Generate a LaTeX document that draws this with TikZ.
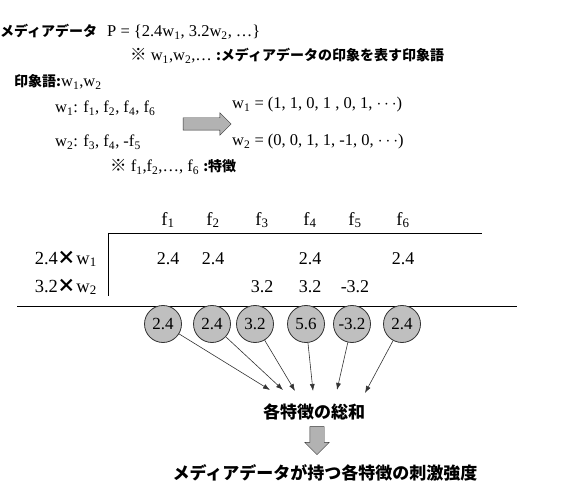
\documentclass[tikz,border=0pt]{standalone}
\usepackage{fontspec}
\setmainfont{Liberation Serif}
\newfontfamily\jp{Noto Sans CJK JP}
\usetikzlibrary{positioning,calc,arrows.meta,shapes.arrows}
\newcommand{\ws}[1]{w\textsubscript{#1}}
\newcommand{\fs}[1]{f\textsubscript{#1}}

\begin{document}
\begin{tikzpicture}[
  x=1pt, y=-1pt,
  txt/.style={anchor=west, inner sep=0pt, font=\fontsize{16.5}{18}\selectfont},
  jpb/.style={font=\jp\bfseries\fontsize{14}{16}\selectfont, inner sep=0pt},
  hd/.style={font=\fontsize{18.5}{20}\selectfont, inner sep=0pt},
  val/.style={font=\fontsize{18}{20}\selectfont, inner sep=0pt},
  sumc/.style={circle, draw=black!80, thick, fill=gray!50, minimum size=37pt,
               inner sep=0pt, font=\fontsize{17}{19}\selectfont},
  blk/.style={single arrow, draw=gray!40!black, fill=gray!60,
              single arrow head extend=5pt},
  arr/.style={-{Latex[length=7pt,width=5pt]}, semithick, black!80}
]
\useasboundingbox (0,0) rectangle (568,489);

% Media data and impression words
\node[txt] (P) at (0,32) {{\jp\bfseries\fontsize{14}{16}\selectfont メディアデータ}\hspace{10pt}P = \{2.4\ws{1}, 3.2\ws{2}, …\}};
\node[txt] (nw) at (130,56) {{\jp ※} \ws{1},\ws{2},… {\jp\bfseries\fontsize{14}{16}\selectfont :メディアデータの印象を表す印象語}};
\node[txt] (iw) at (14,82) {{\jp\bfseries\fontsize{14}{16}\selectfont 印象語:}\ws{1},\ws{2}};
\node[txt] (w1) at (55,108) {\ws{1}: \fs{1}, \fs{2}, \fs{4}, \fs{6}};
\node[txt] (w2) at (55,142) {\ws{2}: \fs{3}, \fs{4}, -\fs{5}};
\node[txt] (nf) at (110,167) {{\jp ※} \fs{1},\fs{2},…, \fs{6} {\jp\bfseries\fontsize{14}{16}\selectfont :特徴}};
\node[txt] (v1) at (232,105) {\ws{1} = (1, 1, 0, 1 , 0, 1, $\cdots$)};
\node[txt] (v2) at (232,142) {\ws{2} = (0, 0, 1, 1, -1, 0, $\cdots$)};
\node[blk, inner sep=6pt, minimum height=48pt] (ar1) at (204,124) {};

% Table
\node[hd] (f1) at (168,220) {\fs{1}};
\node[hd] (f2) at (213,220) {\fs{2}};
\node[hd] (f3) at (262,220) {\fs{3}};
\node[hd] (f4) at (310,220) {\fs{4}};
\node[hd] (f5) at (355,220) {\fs{5}};
\node[hd] (f6) at (403,220) {\fs{6}};
\coordinate (tl) at (108,233);
\coordinate (tr) at (482,233);
\coordinate (bl) at (108,296);
\draw[thick] (tl) -- (tr);
\draw[thick] (tl) -- (bl);

\node[hd, anchor=east] (r1) at (97,259) {2.4{\jp\bfseries ×}\ws{1}};
\node[hd, anchor=east] (r2) at (97,287) {3.2{\jp\bfseries ×}\ws{2}};
\node[val] at (168,259) {2.4};
\node[val] at (213,259) {2.4};
\node[val] at (310,259) {2.4};
\node[val] at (403,259) {2.4};
\node[val] at (262,287) {3.2};
\node[val] at (310,287) {3.2};
\node[val] at (355,287) {-3.2};
\coordinate (ll) at (17,306);
\coordinate (lr) at (517,306);
\draw[thick] (ll) -- (lr);

% Sums
\node[sumc] (c1) at (163,324) {2.4};
\node[sumc] (c2) at (212,324) {2.4};
\node[sumc] (c3) at (255,324) {3.2};
\node[sumc] (c4) at (306,324) {5.6};
\node[sumc] (c5) at (352,324) {-3.2};
\node[sumc] (c6) at (402,324) {2.4};

\node[jpb, font=\jp\bfseries\fontsize{17}{19}\selectfont] (sum) at (314,412) {各特徴の総和};
\coordinate (t1) at (270,390);
\coordinate (t2) at (283,390);
\coordinate (t3) at (295,391);
\coordinate (t4) at (313,391);
\coordinate (t5) at (337,390);
\coordinate (t6) at (365,393);
\draw[arr] (c1) -- (t1);
\draw[arr] (c2) -- (t2);
\draw[arr] (c3) -- (t3);
\draw[arr] (c4) -- (t4);
\draw[arr] (c5) -- (t5);
\draw[arr] (c6) -- (t6);

\node[blk, rotate=-90, inner sep=7pt, minimum height=28pt] (ar2) at (317,437) {};
\node[jpb, font=\jp\bfseries\fontsize{17}{19}\selectfont] (res) at (325,473) {メディアデータが持つ各特徴の刺激強度};
\end{tikzpicture}
\end{document}
